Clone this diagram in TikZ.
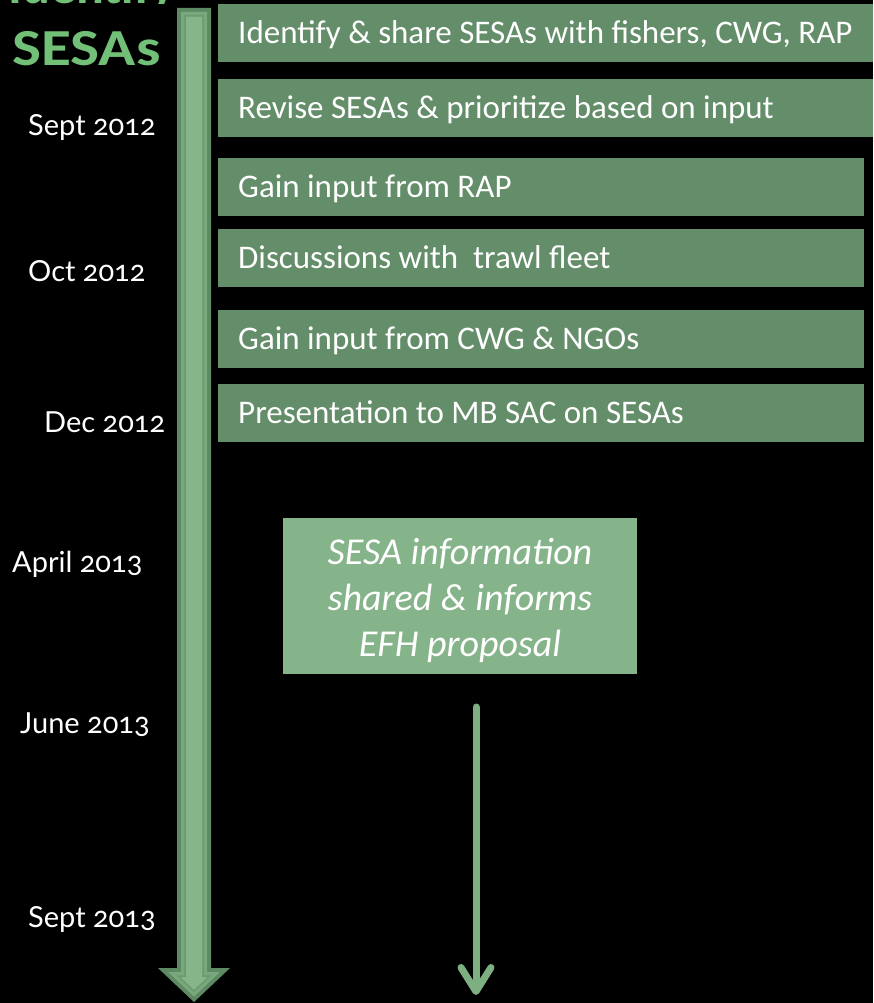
\documentclass[tikz,border=0pt]{standalone}
\usepackage{fontspec}
\setmainfont{Carlito}
\newfontfamily\datefamily{Lato}[Numbers=OldStyle]
\usetikzlibrary{arrows.meta}

\definecolor{boxgreen}{HTML}{638E69}
\definecolor{infogreen}{HTML}{86B48A}
\definecolor{titlegreen}{HTML}{72C078}
\definecolor{shaftdark}{HTML}{5E8A63}
\definecolor{shaftband}{HTML}{79A87D}
\definecolor{shaftline}{HTML}{6A9A6F}
\definecolor{shaftlight}{HTML}{86B58A}
\definecolor{flowgreen}{HTML}{7DAF81}

\tikzset{
  taskbox/.style={fill=boxgreen, inner xsep=20pt, inner ysep=0pt,
    minimum height=58pt, anchor=north west, text=white,
    text height=27pt, text depth=7pt,
    font=\fontsize{33}{38}\selectfont},
  datelabel/.style={anchor=base west, inner sep=0pt, text=white,
    font=\datefamily\fontsize{29}{34}\selectfont},
  headline/.style={anchor=base west, inner sep=0pt, text=titlegreen,
    font=\bfseries\fontsize{52}{58}\selectfont},
  infobox/.style={fill=infogreen, minimum width=354pt, minimum height=156pt,
    inner sep=0pt},
  infotext/.style={inner sep=0pt, align=center, text=white,
    font=\itshape\fontsize{38}{46}\selectfont},
  flowarrow/.style={draw=flowgreen, line width=7pt, line cap=round,
    -{Straight Barb[length=24pt, width=30pt, line cap=round, line join=round]}},
}

\begin{document}
\begin{tikzpicture}[x=1pt, y=-1pt]
  \fill[black] (0,0) rectangle (873,1003);
  \useasboundingbox (0,0) rectangle (873,1003);

  % heading: only the foot of its first line lies inside the page
  \node[headline] (headtop) at (8,4) {Identify};
  \fill[black] (0,4.5) rectangle (175,24);
  \node[headline] (headsesa) at (12,66) {\scalebox{1.18}[1]{SESAs}};

  % timeline arrow
  \fill[shaftdark] (177,8) -- (211,8) -- (211,968) -- (230,968) -- (194,1002)
    -- (158,968) -- (177,968) -- cycle;
  \fill[shaftband] (181,12) -- (207,12) -- (207,972) -- (219.9,972) -- (194,996.5)
    -- (168.1,972) -- (181,972) -- cycle;
  \filldraw[fill=shaftlight, draw=shaftline, line width=1.5pt]
    (185,16) -- (203,16) -- (203,976) -- (209.9,976) -- (194,991)
    -- (178.1,976) -- (185,976) -- cycle;

  % dates
  \node[datelabel] (d1) at (28,136) {Sept 2012};
  \node[datelabel] (d2) at (28,281) {Oct 2012};
  \node[datelabel] (d3) at (44,432) {Dec 2012};
  \node[datelabel] (d4) at (12,572) {April 2013};
  \node[datelabel] (d5) at (20,733) {June 2013};
  \node[datelabel] (d6) at (28,927) {Sept 2013};

  % tasks
  \node[taskbox] (t1) at (218,4) {\makebox[615pt][l]{Identify \& share SESAs with fishers, CWG, RAP}};
  \node[taskbox] (t2) at (218,79) {\makebox[615pt][l]{Revise SESAs \& prioritize based on input}};
  \node[taskbox] (t3) at (218,158) {\makebox[606pt][l]{Gain input from RAP}};
  \node[taskbox] (t4) at (218,229) {\makebox[606pt][l]{Discussions with\ \ trawl fleet}};
  \node[taskbox] (t5) at (218,310) {\makebox[606pt][l]{Gain input from CWG \& NGOs}};
  \node[taskbox] (t6) at (218,384) {\makebox[606pt][l]{Presentation to MB SAC on SESAs}};

  % outcome
  \node[infobox] (info) at (460,596) {};
  \node[infotext] (infotxt) at (460,600) {SESA information\\shared \& informs\\EFH proposal};

  \coordinate (flowtop) at (476,707);
  \coordinate (flowend) at (476,995);
  \draw[flowarrow] (flowtop) -- (flowend);
\end{tikzpicture}
\end{document}
